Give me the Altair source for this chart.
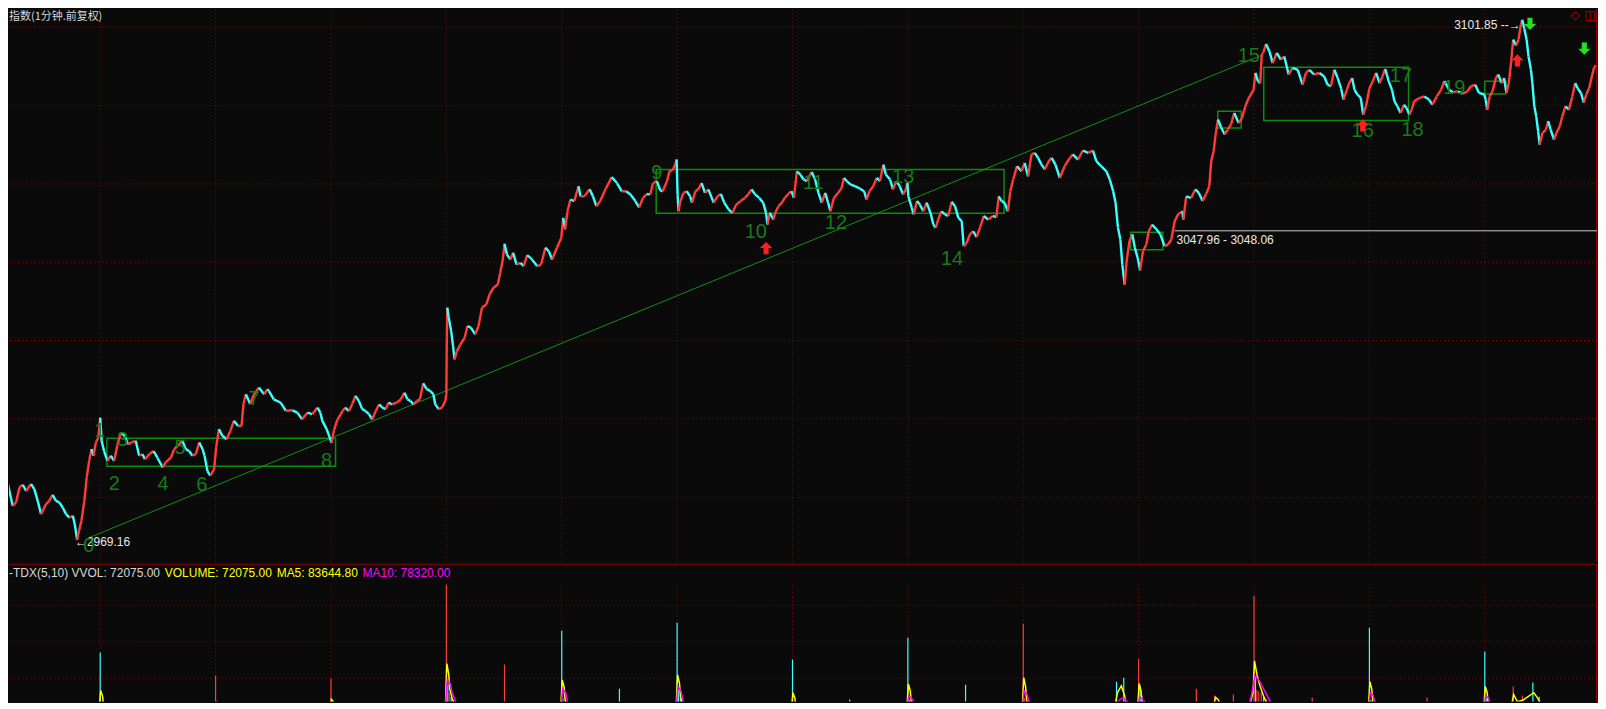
import altair as alt
import pandas as pd

# ---------------- price path (minute index, index value) ----------------
price_minute = [
    34, 41, 48, 58, 65, 72, 79, 86, 96, 103, 110, 117, 127, 134, 141, 148, 155, 162, 169, 176,
    183, 187, 192, 196, 201, 207, 212, 217, 222, 226, 231, 236, 240, 243, 248, 255, 262, 269, 276, 283,
    291, 298, 305, 314, 321, 328, 333, 342, 351, 359, 370, 376, 387, 394, 401, 411, 418, 425, 432, 439,
    446, 453, 457, 463, 469, 477, 481, 487, 494, 503, 511, 518, 527, 534, 538, 543, 552, 560, 570, 581,
    588, 591, 601, 615, 626, 640, 650, 660, 671, 681, 692, 698, 702, 711, 717, 721, 726, 733, 744, 750,
    757, 764, 771, 778, 785, 792, 799, 806, 813, 820, 827, 834, 840, 847, 858, 865, 873, 879, 885, 892,
    899, 905, 912, 919, 927, 933, 937, 944, 951, 958, 960, 961, 962, 965, 970, 974, 977, 982, 989, 998,
    1004, 1011, 1020, 1027, 1034, 1043, 1050, 1058, 1067, 1072, 1077, 1081, 1086, 1093, 1099, 1106, 1114, 1121, 1128, 1135,
    1138, 1149, 1157, 1166, 1173, 1180, 1190, 1199, 1203, 1207, 1212, 1218, 1226, 1235, 1239, 1247, 1258, 1265, 1272, 1280,
    1291, 1304, 1315, 1325, 1334, 1343, 1353, 1361, 1369, 1377, 1384, 1390, 1398, 1405, 1410, 1419, 1424, 1431, 1436, 1439,
    1441, 1443, 1446, 1453, 1460, 1467, 1471, 1478, 1484, 1491, 1498, 1505, 1516, 1524, 1531, 1538, 1547, 1555, 1563, 1572,
    1581, 1588, 1595, 1602, 1611, 1619, 1625, 1628, 1633, 1640, 1644, 1651, 1658, 1664, 1671, 1678, 1683, 1689, 1696, 1703,
    1710, 1720, 1727, 1734, 1741, 1748, 1754, 1759, 1766, 1775, 1782, 1787, 1793, 1801, 1810, 1820, 1829, 1834, 1840, 1848,
    1855, 1862, 1869, 1874, 1883, 1889, 1896, 1903, 1910, 1916, 1919, 1921, 1928, 1932, 1939, 1945, 1952, 1959, 1967, 1973,
    1978, 1983, 1990, 1997, 2004, 2011, 2018, 2025, 2032, 2036, 2042, 2049, 2056, 2063, 2070, 2078, 2087, 2097, 2104, 2109,
    2115, 2121, 2128, 2133, 2139, 2147, 2156, 2163, 2170, 2177, 2184, 2191, 2198, 2205, 2214, 2219, 2227, 2236, 2246, 2257,
    2263, 2274, 2284, 2295, 2305, 2312, 2322, 2333, 2340, 2347, 2352, 2357, 2362, 2366, 2371, 2375, 2381, 2387, 2392, 2398,
    2403, 2409, 2416, 2421, 2428, 2437, 2445, 2454, 2461, 2468, 2475, 2482, 2491, 2493, 2499, 2509, 2518, 2525, 2533, 2540,
    2547, 2551, 2556, 2560, 2565, 2572, 2579, 2585, 2592, 2599, 2608, 2615, 2622, 2629, 2639, 2643, 2648, 2653, 2656, 2659,
    2665, 2672, 2679, 2687, 2696, 2703, 2712, 2720, 2731, 2741, 2748, 2755, 2765, 2776, 2786, 2793, 2800, 2807, 2814, 2821,
    2826, 2833, 2838, 2844, 2849, 2855, 2862, 2867, 2873, 2880, 2887, 2894, 2901, 2907, 2913, 2920, 2927, 2932, 2938, 2945,
    2952, 2957, 2963, 2968, 2973, 2984, 2994, 3004, 3011, 3020, 3029, 3036, 3046, 3054, 3063, 3074, 3084, 3091, 3100, 3108,
    3119, 3122, 3125, 3130, 3136, 3143, 3148, 3155, 3160, 3165, 3170, 3175, 3179, 3185, 3190, 3195, 3198, 3202, 3207, 3211,
    3216, 3219, 3223, 3227, 3231, 3234, 3240, 3247, 3252, 3257, 3264, 3269, 3276, 3281, 3288, 3295, 3302, 3308, 3313, 3320,
    3326, 3331, 3337, 3342, 3347, 3351,
]
price_value = [
    2988.0, 2985.0, 2983.4, 2977.8, 2978.7, 2982.5, 2983.2, 2981.6, 2983.4, 2982.1, 2979.1, 2975.7, 2978.2, 2979.1, 2980.6, 2979.1, 2978.7, 2977.4, 2975.7, 2974.8,
    2975.3, 2973.2, 2969.16, 2971.5, 2974.0, 2979.1, 2985.1, 2989.3, 2992.3, 2990.6, 2994.0, 2995.2, 3000.3, 2994.4, 2991.8, 2989.3, 2990.6, 2989.3, 2993.5, 2996.5,
    2995.7, 2993.5, 2994.0, 2994.4, 2990.6, 2991.0, 2989.7, 2991.0, 2991.8, 2990.1, 2987.6, 2988.9, 2990.1, 2992.3, 2993.1, 2994.4, 2992.3, 2991.8, 2990.6, 2991.0,
    2994.0, 2992.3, 2990.6, 2986.7, 2985.5, 2987.2, 2992.6, 2997.4, 2995.7, 2994.8, 2997.0, 2999.5, 2998.2, 2998.2, 3003.8, 3006.3, 3003.8, 3006.3, 3008.0, 3006.3,
    3007.6, 3007.1, 3005.0, 3004.2, 3002.1, 3002.2, 3001.6, 2999.9, 3001.6, 3001.2, 3002.9, 3001.6, 2999.5, 2997.4, 2995.4, 2993.9, 2997.0, 2999.7, 3002.0, 3002.9,
    3002.0, 3003.7, 3005.9, 3004.6, 3002.5, 3002.0, 3001.2, 2999.9, 3002.0, 3003.7, 3002.9, 3002.5, 3004.2, 3003.7, 3004.2, 3005.0, 3006.7, 3005.0, 3004.6, 3003.7,
    3004.6, 3005.0, 3009.1, 3007.6, 3007.1, 3006.3, 3003.7, 3002.5, 3002.9, 3004.6, 3006.3, 3020.7, 3028.4, 3025.8, 3022.4, 3018.6, 3015.2, 3017.3, 3019.0, 3020.7,
    3023.7, 3023.3, 3021.6, 3023.7, 3028.4, 3029.2, 3031.8, 3033.5, 3034.3, 3037.3, 3040.3, 3044.7, 3042.0, 3040.7, 3042.4, 3039.4, 3039.8, 3039.0, 3041.8, 3041.1,
    3040.7, 3039.0, 3039.4, 3043.7, 3042.8, 3040.7, 3043.7, 3046.2, 3051.3, 3048.4, 3053.0, 3056.0, 3055.6, 3059.4, 3056.8, 3056.8, 3058.6, 3056.8, 3054.3, 3055.6,
    3058.6, 3061.7, 3060.2, 3058.1, 3058.1, 3057.3, 3055.6, 3054.0, 3056.4, 3057.4, 3057.3, 3060.2, 3060.7, 3058.3, 3058.1, 3060.7, 3063.2, 3063.6, 3064.9, 3066.2,
    3057.3, 3053.0, 3055.2, 3057.7, 3058.1, 3056.8, 3055.2, 3058.1, 3058.6, 3060.2, 3057.7, 3058.6, 3055.2, 3056.8, 3057.4, 3055.2, 3053.5, 3052.6, 3054.7, 3055.6,
    3056.4, 3057.3, 3058.6, 3057.3, 3056.4, 3055.2, 3052.6, 3049.6, 3052.6, 3050.9, 3052.6, 3054.3, 3055.2, 3056.4, 3057.4, 3058.1, 3056.4, 3063.2, 3062.4, 3061.1,
    3060.7, 3063.0, 3061.1, 3057.7, 3055.2, 3057.7, 3055.2, 3053.0, 3056.4, 3057.7, 3058.9, 3061.5, 3060.7, 3059.8, 3059.4, 3058.8, 3058.1, 3056.0, 3058.1, 3059.4,
    3061.5, 3060.7, 3064.9, 3062.4, 3061.1, 3058.6, 3060.7, 3059.4, 3057.3, 3058.6, 3060.2, 3056.8, 3053.9, 3052.2, 3055.6, 3054.7, 3053.0, 3055.2, 3052.6, 3049.6,
    3048.8, 3050.9, 3053.0, 3052.2, 3051.8, 3055.4, 3054.3, 3051.3, 3050.5, 3044.1, 3044.9, 3047.1, 3047.9, 3046.4, 3048.8, 3051.8, 3050.9, 3051.8, 3051.5, 3056.8,
    3055.6, 3055.2, 3053.0, 3058.1, 3061.1, 3064.5, 3063.2, 3065.3, 3061.9, 3067.5, 3067.9, 3066.6, 3064.9, 3063.7, 3066.0, 3066.6, 3064.9, 3061.5, 3064.5, 3066.6,
    3067.5, 3066.2, 3068.5, 3067.9, 3068.5, 3065.8, 3064.5, 3063.2, 3061.1, 3058.1, 3055.2, 3048.8, 3045.8, 3039.4, 3034.3, 3040.3, 3045.4, 3047.1, 3043.7, 3041.1,
    3037.9, 3042.8, 3044.5, 3047.9, 3049.6, 3048.4, 3047.1, 3044.1, 3044.5, 3045.8, 3050.5, 3052.2, 3053.0, 3050.9, 3056.8, 3056.4, 3058.6, 3057.7, 3055.6, 3057.3,
    3059.4, 3065.8, 3068.3, 3072.6, 3076.4, 3074.3, 3072.6, 3073.8, 3075.1, 3078.1, 3075.5, 3076.8, 3079.8, 3081.9, 3084.0, 3088.3, 3086.2, 3085.7, 3093.0, 3093.4,
    3095.7, 3093.8, 3090.8, 3093.4, 3091.7, 3092.5, 3087.9, 3089.6, 3089.1, 3085.3, 3088.3, 3089.1, 3087.9, 3088.3, 3087.4, 3085.3, 3084.9, 3089.1, 3087.0, 3084.4,
    3081.5, 3084.0, 3085.7, 3087.0, 3084.0, 3082.8, 3081.9, 3077.7, 3079.8, 3084.4, 3086.2, 3088.3, 3085.7, 3087.4, 3089.3, 3086.2, 3084.0, 3081.1, 3079.8, 3078.1,
    3080.2, 3079.4, 3077.7, 3078.9, 3081.1, 3081.9, 3082.3, 3081.5, 3080.2, 3082.3, 3084.0, 3086.2, 3084.0, 3083.4, 3083.6, 3083.0, 3083.6, 3084.9, 3085.3, 3083.2,
    3082.8, 3081.5, 3078.9, 3082.3, 3083.6, 3087.0, 3087.9, 3085.7, 3087.0, 3083.2, 3085.7, 3091.3, 3096.8, 3095.3, 3096.8, 3100.6, 3101.85, 3099.7, 3096.8, 3092.5,
    3089.1, 3085.7, 3079.8, 3077.2, 3073.4, 3070.0, 3073.0, 3073.8, 3076.0, 3073.8, 3071.3, 3073.0, 3074.7, 3077.2, 3079.8, 3078.9, 3082.3, 3085.7, 3084.4, 3083.2,
    3080.7, 3082.8, 3084.4, 3087.0, 3089.6, 3090.2,
]

day_open_minute = [240, 480, 720, 960, 1200, 1440, 1680, 1920, 2160, 2400, 2640, 2880, 3120]
price_grid = [2980, 3000, 3020, 3040, 3060, 3080, 3100]

# ---------------- wave labels ----------------
pivot_label = [str(i) for i in range(20)]
pivot_minute = [216.5, 239.4, 269.1, 286.5, 370.9, 406.2, 451.3, 559.9, 710.9, 1397.9,
                1603.6, 1723.2, 1770.4, 1910.2, 2012.0, 2629.0, 2865.9, 2945.6, 2969.7, 3056.3]
pivot_price = [2967.6, 2996.9, 2983.4, 2994.6, 2983.4, 2992.6, 2983.2, 3005.0, 2989.3, 3062.8,
               3047.7, 3060.2, 3050.0, 3061.7, 3040.7, 3092.5, 3073.4, 3087.4, 3073.7, 3084.45]

# ---------------- consolidation boxes ----------------
box_start = [253.9, 1396.5, 2383.2, 2564.6, 2660.2, 3120.0]
box_end = [729.6, 2120.0, 2450.4, 2613.3, 2961.4, 3163.7]
box_top = [2995.08, 3063.65, 3047.67, 3078.51, 3089.73, 3086.16]
box_bottom = [2987.95, 3052.51, 3043.16, 3074.26, 3076.14, 3082.92]

# ---------------- trend line ----------------
trend_minute = [216.5, 2655.3]
trend_price = [2969.67, 3092.79]

# ---------------- signal arrows ----------------
up_arrow_minute = [1625, 2866, 3188]
up_arrow_price = [3043.6, 3074.9, 3091.5]
down_arrow_minute = [3214, 3327]
down_arrow_price = [3100.8, 3094.5]

# ---------------- white annotations ----------------
note_text = ["\u21902969.16", "3101.85 --\u2192", "3047.96 - 3048.06"]
note_minute = [187.4, 3056.3, 2478.8]
note_price = [2968.65, 3100.56, 3045.76]
level_line_minute = [2474.7, 3353.4]
level_line_price = 3048.01

# ---------------- volume ----------------
vol_minute = [240, 243, 480, 483, 720, 723, 960, 963, 966, 970, 975, 980, 1081, 1200, 1203, 1207, 1320,
              1440, 1443, 1447, 1452, 1680, 1683, 1799, 1920, 1923, 1927, 2040, 2160, 2163, 2167, 2354, 2369,
              2400, 2403, 2407, 2412, 2520, 2558, 2597, 2632, 2640, 2643, 2646, 2650, 2655, 2660, 2666, 2672,
              2761, 2880, 2883, 3000, 3120, 3123, 3127, 3179, 3198, 3220, 3233]
vol_value = [170000, 35000, 107000, 38000, 99000, 36000, 356000, 82000, 60000, 48000, 40000, 34000, 137000,
             230000, 45000, 36000, 71000, 252000, 68000, 45000, 36000, 151000, 36000, 41000, 211000, 40000, 33000,
             82000, 249000, 45000, 35000, 90000, 101000, 153000, 79000, 50000, 38000, 71000, 52000, 55000, 45000,
             326000, 101000, 68000, 64000, 60000, 50000, 42000, 35000, 47000, 238000, 40000, 47000, 173000, 45000,
             35000, 77000, 52000, 88000, 49000]
vol_dir = ["dn", "dn", "up", "up", "up", "up", "up", "dn", "up", "dn", "up", "dn", "up", "dn", "up", "dn", "dn",
           "dn", "dn", "dn", "up", "dn", "dn", "dn", "dn", "dn", "up", "dn", "up", "up", "dn", "dn", "dn",
           "up", "dn", "up", "dn", "up", "up", "up", "up", "up", "dn", "up", "up", "up", "dn", "up", "up",
           "up", "dn", "dn", "up", "dn", "dn", "up", "up", "up", "dn", "dn"]

ma5_minute = [238, 241, 245, 247, 718, 721, 725, 727, 958, 961, 965, 967, 972, 978,
              1198, 1201, 1205, 1207, 1212, 1438, 1441, 1445, 1447, 1453, 1678, 1681, 1685, 1687,
              1918, 1921, 1925, 1927, 1932, 2158, 2161, 2165, 2167, 2172, 2350, 2356, 2364, 2370, 2376,
              2398, 2401, 2405, 2407, 2412, 2555, 2560, 2566, 2570, 2630, 2638, 2641, 2646, 2652, 2660, 2670,
              2878, 2881, 2885, 2887, 2892, 3118, 3121, 3125, 3127, 3132, 3175, 3180, 3188, 3200, 3222, 3230, 3240]
ma5_value = [20000, 66000, 50000, 22000, 20000, 42000, 35000, 20000, 20000, 140000, 110000, 70000, 45000, 20000,
             20000, 95000, 75000, 40000, 20000, 20000, 109000, 85000, 50000, 20000, 20000, 60000, 45000, 20000,
             20000, 84000, 65000, 35000, 20000, 20000, 101000, 75000, 40000, 20000, 20000, 60000, 79000, 55000, 20000,
             20000, 85000, 65000, 35000, 20000, 20000, 47000, 40000, 20000, 20000, 60000, 147000, 110000, 80000, 50000, 20000,
             20000, 90000, 70000, 35000, 20000, 20000, 77000, 60000, 30000, 20000, 20000, 55000, 35000, 40000, 60000, 45000, 20000]
ma10_minute = [958, 962, 968, 972, 978, 985, 1198, 1202, 1208, 1212, 1218, 1438, 1442, 1448, 1452, 1458,
               1918, 1922, 1928, 1932, 1936, 2158, 2162, 2168, 2172, 2178, 2350, 2360, 2368, 2376, 2384,
               2398, 2402, 2408, 2412, 2416, 2630, 2642, 2650, 2660, 2670, 2680, 2878, 2882, 2888, 2892, 2896,
               3118, 3122, 3128, 3132, 3136]
ma10_value = [20000, 97000, 85000, 60000, 40000, 20000, 20000, 69000, 60000, 35000, 20000, 20000, 77000, 65000, 40000, 20000,
              20000, 51000, 45000, 28000, 20000, 20000, 65000, 55000, 35000, 20000, 20000, 40000, 47000, 35000, 20000,
              20000, 48000, 42000, 25000, 20000, 20000, 106000, 95000, 70000, 45000, 20000, 20000, 60000, 52000, 30000, 20000,
              20000, 51000, 45000, 25000, 20000]
vol_grid = [100000, 200000, 300000]

# ---------------- styling ----------------
BG = "#0a0a0a"
GRID = "#960000"
RED = "#ff3c3c"
CYAN = "#3cffff"
BOX_GREEN = "#0e8a0e"
LABEL_GREEN = "#187a18"
W = 1590
H_MAIN = 553
H_VOL = 138

xs = alt.Scale(domain=[50.3, 3353.4], nice=False, zero=False)
ys = alt.Scale(domain=[2963.55, 3104.51], nice=False, zero=False)
vs = alt.Scale(domain=[35600, 413700], nice=False, zero=False)
dir_color = alt.Scale(domain=["up", "dn"], range=[RED, CYAN])

X = lambda f: alt.X(f, type="quantitative", scale=xs, axis=None)
Y = lambda f: alt.Y(f, type="quantitative", scale=ys, axis=None)
V = lambda f: alt.Y(f, type="quantitative", scale=vs, axis=None)

# ---------- main panel ----------
seg = pd.DataFrame({
    "m0": price_minute[:-1], "m1": price_minute[1:],
    "p0": price_value[:-1], "p1": price_value[1:],
})
seg["dir"] = ["up" if b >= a else "dn" for a, b in zip(seg["p0"], seg["p1"])]

hgrid = alt.Chart(pd.DataFrame({"p": price_grid})).mark_rule(
    color=GRID, strokeDash=[1, 3], strokeWidth=1).encode(y=Y("p"))
vgrid = alt.Chart(pd.DataFrame({"m": day_open_minute})).mark_rule(
    color=GRID, strokeDash=[1, 3], strokeWidth=1).encode(x=X("m"))
border = alt.Chart(pd.DataFrame({"m": [3352.3]})).mark_rule(
    color="#9a0000", strokeWidth=1).encode(x=X("m"))

boxes = alt.Chart(pd.DataFrame({"a": box_start, "b": box_end, "t": box_top, "u": box_bottom})).mark_rect(
    fillOpacity=0, stroke=BOX_GREEN, strokeWidth=1.5).encode(x=X("a"), x2="b", y=Y("t"), y2="u")

trend = alt.Chart(pd.DataFrame({"m0": [trend_minute[0]], "m1": [trend_minute[1]],
                                "p0": [trend_price[0]], "p1": [trend_price[1]]})).mark_rule(
    color="#119011", strokeWidth=1).encode(x=X("m0"), x2="m1", y=Y("p0"), y2="p1")

level = alt.Chart(pd.DataFrame({"m0": [level_line_minute[0]], "m1": [level_line_minute[1]],
                                "p": [level_line_price]})).mark_rule(
    color="#c8c8c8", strokeWidth=1, clip=True).encode(x=X("m0"), x2="m1", y=Y("p"))

candles = alt.Chart(seg).mark_rule(strokeWidth=2.4, clip=True).encode(
    x=X("m0"), x2="m1", y=Y("p0"), y2="p1",
    color=alt.Color("dir:N", scale=dir_color, legend=None))

notes = alt.Chart(pd.DataFrame({"t": note_text, "m": note_minute, "p": note_price})).mark_text(
    font="Liberation Sans", fontSize=12, color="#e8e8e8", align="left", baseline="middle").encode(
    x=X("m"), y=Y("p"), text="t:N")

labels = alt.Chart(pd.DataFrame({"t": pivot_label, "m": pivot_minute, "p": pivot_price})).mark_text(
    font="Liberation Sans", fontSize=20, color=LABEL_GREEN, align="center", baseline="middle").encode(
    x=X("m"), y=Y("p"), text="t:N")

UP = "M0,-1L1,0L0.42,0L0.42,1L-0.42,1L-0.42,0L-1,0Z"
DOWN = "M0,1L1,0L0.42,0L0.42,-1L-0.42,-1L-0.42,0L-1,0Z"
up_arrows = alt.Chart(pd.DataFrame({"m": up_arrow_minute, "p": up_arrow_price})).mark_point(
    shape=UP, filled=True, size=150, color="#ff1e1e", opacity=1, strokeWidth=0).encode(x=X("m"), y=Y("p"))
down_arrows = alt.Chart(pd.DataFrame({"m": down_arrow_minute, "p": down_arrow_price})).mark_point(
    shape=DOWN, filled=True, size=150, color="#22e022", opacity=1, strokeWidth=0).encode(x=X("m"), y=Y("p"))

title = alt.Chart(pd.DataFrame({"t": ["指数(1分钟.前复权)"]})).mark_text(
    font="Noto Sans CJK SC", fontSize=11, color="#d8d8d8", align="left", baseline="top").encode(
    x=alt.value(0), y=alt.value(2), text="t:N")
icons = alt.Chart(pd.DataFrame({"t": ["\u25c7", "\u25eb"], "x": [1568, 1583]})).mark_text(
    font="DejaVu Sans", fontSize=12, color="#c00000", align="center", baseline="top").encode(
    x=alt.X("x:Q", scale=None, axis=None), y=alt.value(1), text="t:N")

main = alt.layer(hgrid, vgrid, border, boxes, trend, level, candles, notes, labels,
                 up_arrows, down_arrows, title, icons).properties(width=W, height=H_MAIN)

# ---------- volume panel ----------
vol_df = pd.DataFrame({"m": vol_minute, "v": vol_value, "dir": vol_dir})
vol_df["z"] = 0

v_hgrid = alt.Chart(pd.DataFrame({"v": vol_grid})).mark_rule(
    color=GRID, strokeDash=[1, 3], strokeWidth=1).encode(y=V("v"))
v_vgrid = alt.Chart(pd.DataFrame({"m": day_open_minute, "top": 358900, "bot": 35600})).mark_rule(
    color=GRID, strokeDash=[1, 3], strokeWidth=1).encode(x=X("m"), y=V("top"), y2="bot")
v_border = alt.Chart(pd.DataFrame({"m": [3352.3]})).mark_rule(
    color="#9a0000", strokeWidth=1).encode(x=X("m"))
separator = alt.Chart(pd.DataFrame({"a": [0]})).mark_rule(color="#8b0000", strokeWidth=1).encode(
    x=alt.value(0), x2=alt.value(W), y=alt.value(0.5))
bars = alt.Chart(vol_df).mark_rule(strokeWidth=1.2, clip=True).encode(
    x=X("m"), y=V("v"), y2="z", color=alt.Color("dir:N", scale=dir_color, legend=None))
ma5 = alt.Chart(pd.DataFrame({"m": ma5_minute, "v": ma5_value})).mark_line(
    color="#ffff00", strokeWidth=1.5, clip=True).encode(x=X("m"), y=V("v"))
ma10 = alt.Chart(pd.DataFrame({"m": ma10_minute, "v": ma10_value})).mark_line(
    color="#ff00ff", strokeWidth=1.5, clip=True).encode(x=X("m"), y=V("v"))

vol_text = ["-TDX(5,10) VVOL: 72075.00", "VOLUME: 72075.00", "MA5: 83644.80", "MA10: 78320.00"]
vol_text_x = [0, 156, 268, 354]
vol_text_color = ["#d8d8d8", "#ffff00", "#ffff00", "#ff00ff"]
vtitle = alt.Chart(pd.DataFrame({"t": vol_text, "x": vol_text_x, "c": vol_text_color})).mark_text(
    font="Liberation Sans", fontSize=12, align="left", baseline="middle").encode(
    x=alt.X("x:Q", scale=None, axis=None), y=alt.value(9), text="t:N",
    color=alt.Color("c:N", scale=None, legend=None))

vol = alt.layer(v_hgrid, v_vgrid, v_border, bars, ma5, ma10, separator, vtitle).properties(
    width=W, height=H_VOL)

chart = alt.vconcat(main, vol, spacing=0).properties(
    padding=0, background=BG).configure_view(stroke=None)

chart.save("out.html", embed_options={"renderer": "svg", "actions": False})
